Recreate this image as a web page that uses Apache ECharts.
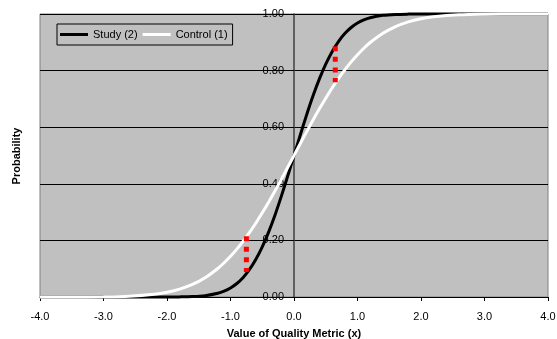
<!DOCTYPE html>
<html>
<head>
<meta charset="utf-8">
<script src="https://cdn.jsdelivr.net/npm/echarts@6/dist/echarts.min.js"></script>
<style>
html,body{margin:0;padding:0;background:#fff;}
#chart{width:557px;height:339px;}
</style>
</head>
<body>
<div id="chart"></div>
<script>
// x positions (value of quality metric)
var xValues = [-4.0, -3.5, -3.0, -2.6, -2.2, -2.0, -1.8, -1.6, -1.4, -1.2, -1.1, -1.0, -0.9, -0.8, -0.7, -0.6, -0.5, -0.4, -0.3, -0.2, -0.1,
  0.0, 0.1, 0.2, 0.3, 0.4, 0.5, 0.6, 0.7, 0.8, 0.9, 1.0, 1.1, 1.2, 1.4, 1.6, 1.8, 2.0, 2.2, 2.6, 3.0, 3.5, 4.0];
// Study (2) cumulative probability
var studyValues = [0, 0, 0, 0, 0, 0.0001, 0.0004, 0.0015, 0.0048, 0.0131, 0.0208, 0.0320, 0.0478, 0.0692, 0.0974, 0.1333, 0.1772, 0.2294, 0.2892, 0.3556, 0.4266,
  0.5, 0.5734, 0.6444, 0.7108, 0.7706, 0.8228, 0.8667, 0.9026, 0.9308, 0.9522, 0.9680, 0.9792, 0.9869, 0.9952, 0.9985, 0.9996, 0.9999, 1, 1, 1, 1, 1];
// Control (1) cumulative probability
var controlValues = [0, 0.0001, 0.0007, 0.0028, 0.0096, 0.0167, 0.0278, 0.0444, 0.0682, 0.1009, 0.1210, 0.1437, 0.1692, 0.1974, 0.2282, 0.2616, 0.2974, 0.3352, 0.3748, 0.4157, 0.4576,
  0.5, 0.5424, 0.5843, 0.6252, 0.6648, 0.7026, 0.7384, 0.7718, 0.8026, 0.8308, 0.8563, 0.8790, 0.8991, 0.9318, 0.9556, 0.9722, 0.9833, 0.9904, 0.9972, 0.9993, 0.9999, 1];
// red dotted gap markers
var gapX = [-0.75, 0.65];
var gapTop = [0.215, 0.886];
var gapBottom = [0.088, 0.759];
var seriesNames = ['Study (2)', 'Control (1)'];

var FONT = "'Liberation Sans', Arial, sans-serif";
var GRID = { left: 40, right: 9, top: 14, bottom: 42 };
var X_MIN = -4, X_MAX = 4;

function pairs(xs, ys) { return xs.map(function (x, i) { return [x, ys[i]]; }); }

var series = [
  { name: seriesNames[0], type: 'line', data: pairs(xValues, studyValues), smooth: 0.3,
    showSymbol: false, symbol: 'none', clip: false, color: '#000',
    lineStyle: { color: '#000', width: 3 }, z: 3 },
  { name: seriesNames[1], type: 'line', data: pairs(xValues, controlValues), smooth: 0.3,
    showSymbol: false, symbol: 'none', clip: false, color: '#fff',
    lineStyle: { color: '#fff', width: 3 }, z: 4 }
];
gapX.forEach(function (gx, i) {
  series.push({ type: 'line', data: [[gx, gapTop[i]], [gx, gapBottom[i]]], showSymbol: false, symbol: 'none',
    silent: true, color: '#ff0000', z: 5,
    lineStyle: { color: '#ff0000', width: 5, type: [5, 5.6], cap: 'butt' } });
});

var W = 557;
var plotW = W - GRID.left - GRID.right;
var zeroOffset = -plotW * (0 - X_MIN) / (X_MAX - X_MIN);

var chart = echarts.init(document.getElementById('chart'), null, { renderer: 'canvas' });
chart.setOption({
  backgroundColor: '#fff',
  animation: false,
  textStyle: { fontFamily: FONT },
  grid: { left: GRID.left, right: GRID.right, top: GRID.top, bottom: GRID.bottom, containLabel: false, outerBoundsMode: 'none',
    show: true, backgroundColor: '#c0c0c0', borderColor: '#808080', borderWidth: 1 },
  legend: {
    data: seriesNames, left: 57, top: 24, orient: 'horizontal',
    borderColor: '#000', borderWidth: 1, padding: [5, 5, 5, 3],
    icon: 'rect', itemWidth: 28, itemHeight: 3, itemGap: 5,
    textStyle: { fontSize: 11, color: '#000', fontFamily: FONT }
  },
  xAxis: {
    type: 'value', min: X_MIN, max: X_MAX, interval: 1,
    name: 'Value of Quality Metric (x)', nameLocation: 'middle', nameGap: 31,
    nameTextStyle: { fontSize: 11, fontWeight: 'bold', color: '#000', fontFamily: FONT },
    axisLine: { show: true, onZero: false, lineStyle: { color: '#000', width: 1 } },
    axisTick: { show: true, length: 4, inside: false, lineStyle: { color: '#000' } },
    axisLabel: { fontSize: 11, color: '#000', margin: 14, fontFamily: FONT, formatter: function (v) { return v.toFixed(1); } },
    splitLine: { show: false }
  },
  yAxis: {
    type: 'value', min: 0, max: 1, interval: 0.2, offset: zeroOffset,
    axisLine: { show: true, onZero: false, lineStyle: { color: '#404040', width: 1.5 } },
    axisTick: { show: true, length: 5, lineStyle: { color: '#000' } },
    axisLabel: { fontSize: 11, color: '#000', margin: 10, fontFamily: FONT, formatter: function (v) { return v.toFixed(2); } },
    splitLine: { show: true, lineStyle: { color: '#000', width: 1 } }
  },
  graphic: [{
    type: 'text', rotation: Math.PI / 2,
    x: 17, y: 156,
    style: { text: 'Probability', font: 'bold 11px ' + FONT, fill: '#000', textAlign: 'center', textVerticalAlign: 'middle' }
  }],
  series: series
});
</script>
</body>
</html>
